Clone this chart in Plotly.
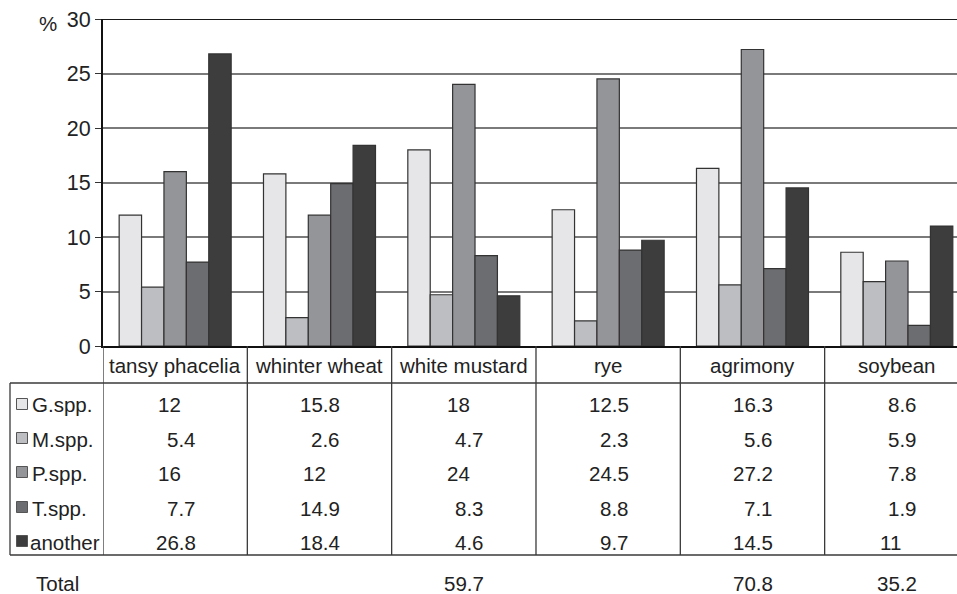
import plotly.graph_objects as go

categories = ["tansy phacelia", "whinter wheat", "white mustard", "rye", "agrimony", "soybean"]
series_names = ["G.spp.", "M.spp.", "P.spp.", "T.spp.", "another"]
g_spp = [12, 15.8, 18, 12.5, 16.3, 8.6]
m_spp = [5.4, 2.6, 4.7, 2.3, 5.6, 5.9]
p_spp = [16, 12, 24, 24.5, 27.2, 7.8]
t_spp = [7.7, 14.9, 8.3, 8.8, 7.1, 1.9]
another = [26.8, 18.4, 4.6, 9.7, 14.5, 11]
totals = [None, None, 59.7, None, 70.8, 35.2]
y_ticks = [0, 5, 10, 15, 20, 25, 30]

series_values = [g_spp, m_spp, p_spp, t_spp, another]
colors = ["#e6e6e8", "#bdbec1", "#949599", "#6c6d71", "#3d3d3d"]

W, H = 957, 594
PL, PR, PT, PB = 103, 957, 19, 346
FONT = "Liberation Sans, Arial, sans-serif"
FS = 20.5
TXT = "#222222"


def pxx(px):
    return (px - PL) / (PR - PL)


def pyy(py):
    return (PB - py) / (PB - PT)


fig = go.Figure()
for name, vals, col in zip(series_names, series_values, colors):
    fig.add_trace(go.Bar(
        x=categories, y=vals, name=name,
        marker=dict(color=col, line=dict(color="#333333", width=1.2)),
        showlegend=False,
    ))

shapes = []
annotations = []

# top border line at 30
shapes.append(dict(type="line", xref="paper", yref="y", x0=0, x1=1, y0=30, y1=30,
                   line=dict(color="#1a1a1a", width=2.2)))

# table lines
line_style = dict(color="#3a3a3a", width=1.3)
for yy in [383, 555]:
    shapes.append(dict(type="line", xref="paper", yref="paper", x0=pxx(10), x1=1,
                       y0=pyy(yy), y1=pyy(yy), line=line_style))
shapes.append(dict(type="line", xref="paper", yref="paper", x0=pxx(10), x1=pxx(10),
                   y0=pyy(383), y1=pyy(555), line=line_style))
for i in range(len(categories)):
    xb = i - 0.5
    shapes.append(dict(type="line", xref="x", yref="paper", x0=xb, x1=xb,
                       y0=pyy(346), y1=pyy(555), line=line_style))

font = dict(family=FONT, size=FS, color=TXT)

# header labels
for i, c in enumerate(categories):
    annotations.append(dict(x=i, y=pyy(365), xref="x", yref="paper", text=c,
                            showarrow=False, xanchor="center", yanchor="middle", font=font))

# rows
row_y = [404, 438, 472, 507, 541]
for r, (name, vals, col) in enumerate(zip(series_names, series_values, colors)):
    yc = row_y[r]
    shapes.append(dict(type="rect", xref="paper", yref="paper",
                       x0=pxx(16.5), x1=pxx(27.5), y0=pyy(yc - 5.5), y1=pyy(yc + 5.5),
                       fillcolor=col, line=dict(color="#555555", width=1)))
    annotations.append(dict(x=pxx(28 if name == "another" else 30), y=pyy(yc + 1),
                            xref="paper", yref="paper", text=name,
                            showarrow=False, xanchor="left", yanchor="middle", font=font))
    for i, v in enumerate(vals):
        is_int = float(v).is_integer()
        txt = str(int(v)) if is_int else str(v)
        annotations.append(dict(x=(i - 0.13) if is_int else (i + 0.155), y=pyy(yc + 1),
                                xref="x", yref="paper", text=txt, showarrow=False,
                                xanchor="left" if is_int else "right", yanchor="middle",
                                font=font))

# totals row
annotations.append(dict(x=pxx(34), y=pyy(583), xref="paper", yref="paper", text="Total",
                        showarrow=False, xanchor="left", yanchor="middle", font=font))
for i, v in enumerate(totals):
    if v is None:
        continue
    annotations.append(dict(x=i + 0.155, y=pyy(583), xref="x", yref="paper", text=str(v),
                            showarrow=False, xanchor="right", yanchor="middle", font=font))

# percent sign
annotations.append(dict(x=pxx(48), y=pyy(24), xref="paper", yref="paper", text="%",
                        showarrow=False, xanchor="center", yanchor="middle", font=font))

fig.update_layout(
    width=W, height=H,
    margin=dict(l=PL, r=W - PR, t=PT, b=H - PB, pad=0),
    paper_bgcolor="white", plot_bgcolor="white",
    barmode="group", bargap=0.224, bargroupgap=0,
    shapes=shapes, annotations=annotations,
    font=font,
    xaxis=dict(range=[-0.5, 5.417], showticklabels=False, ticks="",
               showline=True, linecolor="#111111", linewidth=2, showgrid=False,
               zeroline=False),
    yaxis=dict(range=[0, 30], tickvals=y_ticks, ticks="outside", ticklen=6,
               tickcolor="#333333", tickwidth=1.2, showline=True, linecolor="#111111",
               linewidth=2, showgrid=True, gridcolor="#7a7a7a", gridwidth=1.5,
               zeroline=False, tickfont=dict(family=FONT, size=FS + 1, color=TXT)),
)

fig.write_html("out.html", config={"displayModeBar": False})

# remove default browser body margin so the figure sits at the page's top-left corner
with open("out.html", "r", encoding="utf-8") as f:
    html = f.read()
html = html.replace("<head>", "<head><style>html,body{margin:0;padding:0;overflow:hidden;}</style>", 1)
with open("out.html", "w", encoding="utf-8") as f:
    f.write(html)
